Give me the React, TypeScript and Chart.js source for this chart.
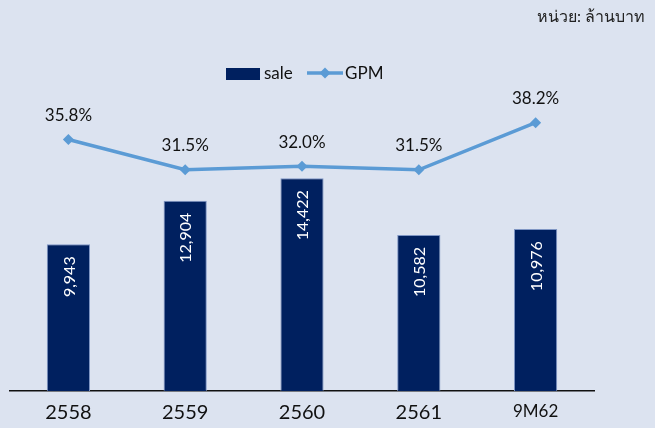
import React, { useEffect, useRef } from "react";
import { Chart, registerables } from "chart.js";

Chart.register(...registerables);

const categories = ["2558", "2559", "2560", "2561", "9M62"];
const saleValues = [9943, 12904, 14422, 10582, 10976];
const gpmValues = [35.8, 31.5, 32.0, 31.5, 38.2];
const seriesNames = ["sale", "GPM"];
const unitLabel = "หน่วย: ล้านบาท";

const BG = "#dce3f0";
const NAVY = "#00205f";
const LINE = "#5b9bd5";
const FONT = "Lato, 'Noto Sans', sans-serif";

const labelsPlugin = {
  id: "customLabels",
  afterDatasetsDraw(chart: any) {
    const ctx = chart.ctx;
    const barMeta = chart.getDatasetMeta(0);
    ctx.save();
    barMeta.data.forEach((el: any, i: number) => {
      ctx.save();
      ctx.translate(el.x, el.y + 12);
      ctx.rotate(-Math.PI / 2);
      ctx.textAlign = "right";
      ctx.textBaseline = "middle";
      ctx.fillStyle = "#ffffff";
      ctx.font = `16px ${FONT}`;
      ctx.fillText(saleValues[i].toLocaleString("en-US"), 0, 1);
      ctx.restore();
    });
    const lineMeta = chart.getDatasetMeta(1);
    lineMeta.data.forEach((el: any, i: number) => {
      ctx.textAlign = "center";
      ctx.textBaseline = "middle";
      ctx.fillStyle = "#111111";
      ctx.font = `17px ${FONT}`;
      ctx.fillText(gpmValues[i].toFixed(1) + "%", el.x, el.y - 24);
    });
    ctx.restore();
  },
  afterDraw(chart: any) {
    const ctx = chart.ctx;
    ctx.save();
    // legend
    ctx.fillStyle = NAVY;
    ctx.fillRect(226, 68, 34, 12);
    ctx.font = `17px ${FONT}`;
    ctx.textBaseline = "middle";
    ctx.textAlign = "left";
    ctx.fillStyle = "#111111";
    ctx.fillText(seriesNames[0], 264, 74);
    ctx.strokeStyle = LINE;
    ctx.lineWidth = 3.5;
    ctx.beginPath();
    ctx.moveTo(307, 73);
    ctx.lineTo(343, 73);
    ctx.stroke();
    ctx.fillStyle = LINE;
    ctx.beginPath();
    ctx.moveTo(325, 67.5);
    ctx.lineTo(330.5, 73);
    ctx.lineTo(325, 78.5);
    ctx.lineTo(319.5, 73);
    ctx.closePath();
    ctx.fill();
    ctx.fillStyle = "#111111";
    ctx.fillText(seriesNames[1], 345, 74);
    // unit
    ctx.textAlign = "right";
    ctx.font = `16px ${FONT}`;
    ctx.fillStyle = "#222222";
    ctx.fillText(unitLabel, 645, 17);
    ctx.restore();
  },
};

const bgPlugin = {
  id: "bg",
  beforeDraw(chart: any) {
    const ctx = chart.ctx;
    ctx.save();
    ctx.fillStyle = BG;
    ctx.fillRect(0, 0, chart.width, chart.height);
    ctx.restore();
  },
};

export default function App() {
  const ref = useRef<HTMLCanvasElement>(null);
  useEffect(() => {
    if (!ref.current) return;
    const chart = new Chart(ref.current, {
      data: {
        labels: categories,
        datasets: [
          {
            type: "bar",
            label: seriesNames[0],
            data: saleValues,
            backgroundColor: NAVY,
            borderColor: "#7f96c4",
            borderWidth: 1,
            categoryPercentage: 1,
            barPercentage: 0.37,
            yAxisID: "y",
            order: 2,
          },
          {
            type: "line",
            label: seriesNames[1],
            data: gpmValues,
            borderColor: LINE,
            backgroundColor: LINE,
            borderWidth: 3.5,
            pointStyle: "rectRot",
            pointRadius: 5.5,
            pointBackgroundColor: LINE,
            pointBorderWidth: 0,
            tension: 0,
            yAxisID: "y2",
            order: 1,
          },
        ],
      } as any,
      options: {
        responsive: false,
        animation: false,
        layout: { padding: { left: 10, right: 61, top: 96, bottom: -7 } },
        plugins: { legend: { display: false }, tooltip: { enabled: false } },
        scales: {
          x: {
            grid: { display: false, drawTicks: false },
            border: { display: true, color: "#111111", width: 1.5 },
            ticks: {
              color: "#111111",
              padding: 10,
              font: (c: any) =>
                c.index === 4
                  ? { family: FONT, size: 17 }
                  : { family: FONT, size: 20 },
            },
          },
          y: { display: false, min: 0, max: 20000 },
          y2: { display: false, min: 0, max: 42 },
        },
      } as any,
      plugins: [bgPlugin, labelsPlugin],
    });
    return () => chart.destroy();
  }, []);
  return (
    <div style={{ position: "fixed", left: 0, top: 0, width: 655, height: 428, background: BG }}>
      <canvas ref={ref} width={655} height={428} />
    </div>
  );
}
